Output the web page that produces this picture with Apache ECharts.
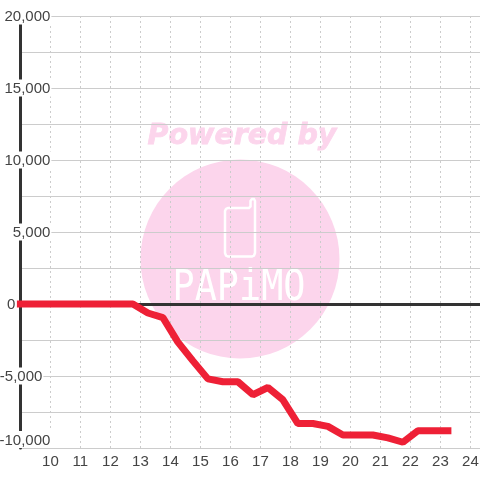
<!DOCTYPE html>
<html><head><meta charset="utf-8">
<style>html,body{margin:0;padding:0;background:#fff}#c{width:480px;height:480px}</style>
<script src="https://cdn.jsdelivr.net/npm/echarts@6/dist/echarts.min.js"></script></head>
<body><div id="c"></div>
<script>
const hours = [9,12.75,13.25,13.75,14.25,14.75,15.25,15.75,16.25,16.75,17.25,17.75,18.25,18.75,19.25,19.75,20.25,20.75,21.25,21.75,22.25,22.75,23.25];
const values = [0,0,-625,-950,-2650,-3950,-5200,-5400,-5400,-6300,-5800,-6650,-8300,-8300,-8500,-9100,-9100,-9100,-9300,-9600,-8800,-8800,-8800];
const labelled = [20000,15000,10000,5000,0,-5000,-10000];
const gaps = {'0':35,'-5000':8};
const pink = '#fcd5ec';
const chart = echarts.init(document.getElementById('c'),null,{renderer:'canvas'});
const font = {fontFamily:'Liberation Sans',fontSize:15,color:'#444'};
chart.setOption({
  animation:false,
  backgroundColor:'#fff',
  grid:{left:20.4,right:0,top:16,bottom:32,containLabel:false,outerBoundsMode:'none'},
  graphic:[
    {type:'circle',z:-1,silent:true,shape:{cx:240,cy:259,r:99.5},style:{fill:pink}},
    {type:'text',z:-1,silent:true,x:242,y:136.5,style:{text:'Powered by',fill:pink,stroke:pink,lineWidth:0.8,font:'italic bold 28.5px "DejaVu Sans"',textAlign:'center',textVerticalAlign:'middle'}},
    {type:'polygon',z:-1,silent:true,shape:{points:[[228,208],[249,208],[250.5,206.5],[250.5,201],[252,199],[254,199],[255,201],[255,253],[254,255.5],[252,256.5],[228,256.5],[226,255.5],[225,253],[225,211],[226,209]]},style:{fill:'none',stroke:'#fff',lineWidth:2.5}},
    {type:'text',z:-1,silent:true,x:239,y:289.5,scaleY:1.15,style:{text:'PAPiMO',fill:'#fff',font:'36.8px "DejaVu Sans Mono"',textAlign:'center',textVerticalAlign:'middle'}}
  ],
  xAxis:[
    {type:'value',position:'bottom',min:9,max:24.32,interval:1,
     axisLine:{show:false},axisTick:{show:false},
     axisLabel:Object.assign({margin:6,showMinLabel:false,showMaxLabel:false},font),
     splitLine:{show:true,lineStyle:{color:'#ccc',width:1,type:[2,3]}}},
    {type:'value',position:'bottom',min:9,max:24.32,interval:1,
     axisLine:{show:true,onZero:true,onZeroAxisIndex:0,lineStyle:{color:'#333',width:3}},
     axisTick:{show:false},axisLabel:{show:false},splitLine:{show:false}}
  ],
  yAxis:{type:'value',position:'left',min:-10000,max:20000,interval:2500,
    axisLine:{show:true,onZero:false,lineStyle:{color:'#333',width:3}},axisTick:{show:false},
    axisLabel:{margin:-31,verticalAlignMinLabel:'bottom',
      formatter:function(v){
        if(!labelled.includes(v)) return '';
        const t=echarts.format.addCommas(v);
        const g=gaps[String(v)];
        return g?'{v|'+t+'}{g'+g+'|}':'{v|'+t+'}';
      },
      rich:{v:Object.assign({backgroundColor:'#fff',padding:[2,1,0,0]},font),g35:{width:35},g8:{width:8}}},
    splitLine:{show:true,lineStyle:{color:'#ccc',width:1}}},
  series:[{type:'line',xAxisIndex:0,data:hours.map((h,i)=>[h,values[i]]),showSymbol:false,clip:false,z:5,
    lineStyle:{color:'#ee2036',width:7,cap:'square',join:'bevel'}}]
});
</script></body></html>
